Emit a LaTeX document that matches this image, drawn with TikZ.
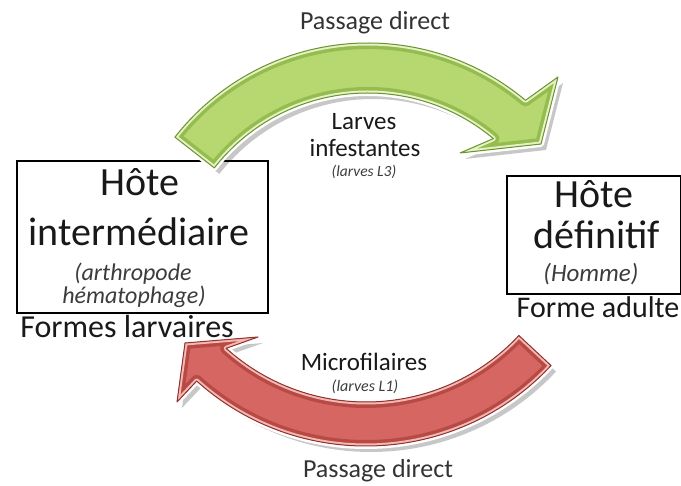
\documentclass[tikz,border=0pt]{standalone}
\usepackage{fontspec}
\setmainfont{Carlito}
\definecolor{gface}{RGB}{183,215,112}
\definecolor{gbevel}{RGB}{148,188,78}
\definecolor{glight}{RGB}{228,242,196}
\definecolor{gdark}{RGB}{108,148,48}
\definecolor{rface}{RGB}{214,102,98}
\definecolor{rbevel}{RGB}{184,74,70}
\definecolor{rlight}{RGB}{242,186,180}
\definecolor{rdark}{RGB}{148,48,46}
\definecolor{txtc}{RGB}{25,25,25}
\definecolor{itc}{RGB}{60,60,60}
\newcommand\fsz[1]{\fontsize{#1}{#1}\selectfont}
\newcommand\grnpath{({368+245*cos(142)},{288-245*sin(142)}) arc[start angle=-142,end angle=-50,radius=245] -- (558,77) -- (541,144) -- (460,153) -- ({368+195*cos(50)},{288-195*sin(50)}) arc[start angle=-50,end angle=-142,radius=195] -- cycle}
\newcommand\rdpath{({366+253*cos(43)},{193+253*sin(43)}) arc[start angle=43,end angle=132,radius=253] -- (177,402) -- (185,343) -- (258,337) -- ({366+209*cos(132)},{193+209*sin(132)}) arc[start angle=132,end angle=43,radius=209] -- cycle}
\begin{document}
\begin{tikzpicture}[x=1pt,y=-1pt,
  hostbox/.style={draw=black, line width=2pt, fill=none, inner sep=0pt, anchor=north west},
  txt/.style={inner sep=0pt, anchor=base, text=txtc},
  itx/.style={inner sep=0pt, anchor=base, text=itc, font=\itshape}]
\useasboundingbox (0,0) rectangle (681,486);
% boxes
\node[hostbox, minimum width=251pt, minimum height=152pt] (hi) at (16,160) {};
\node[hostbox, minimum width=174pt, minimum height=118pt] (hd) at (506,175) {};
% red arrow
\fill[black, opacity=.22, shift={(5,6)}] \rdpath;
\draw[white, line width=6pt, line join=round] \rdpath;
\fill[rface] \rdpath;
\begin{scope}
\clip \rdpath;
\draw[rbevel, line width=12pt, line join=round] \rdpath;
\draw[rlight, line width=5pt, line join=round] \rdpath;
\end{scope}
\draw[rdark, line width=1pt, line join=round] \rdpath;
% green arrow
\fill[black, opacity=.22, shift={(5,6)}] \grnpath;
\draw[white, line width=6pt, line join=round] \grnpath;
\fill[gface] \grnpath;
\begin{scope}
\clip \grnpath;
\draw[gbevel, line width=12pt, line join=round] \grnpath;
\draw[glight, line width=5pt, line join=round] \grnpath;
\end{scope}
\draw[gdark, line width=1pt, line join=round] \grnpath;
% texts
\node[txt, font=\fsz{26}, text=black!80] (ptop) at (375,30) {Passage direct};
\node[txt, font=\fsz{26}, text=black!80] (pbot) at (378,478) {Passage direct};
\node[txt, font=\fsz{40}] (hi1) at (140,196) {Hôte};
\node[txt, font=\fsz{40}] (hi2) at (139,246) {intermédiaire};
\node[itx, font=\fsz{24}\itshape] (hi3) at (133,281) {(arthropode};
\node[itx, font=\fsz{24}\itshape] (hi4) at (134,304) {hématophage)};
\node[txt, font=\fsz{32}] (hil) at (127,338) {Formes larvaires};
\node[txt, font=\fsz{40}] (hd1) at (594,208) {Hôte};
\node[txt, font=\fsz{40}] (hd2) at (597,249) {définitif};
\node[itx, font=\fsz{25}\itshape] (hd3) at (591,282) {(Homme)};
\node[txt, font=\fsz{30}] (hdl) at (598,318) {Forme adulte};
\node[txt, font=\fsz{25}] (m1) at (364,130) {Larves};
\node[txt, font=\fsz{25}] (m2) at (365,157) {infestantes};
\node[itx, font=\fsz{15.5}\itshape] (m3) at (364,177) {(larves L3)};
\node[txt, font=\fsz{25}] (m4) at (364,371) {Microfilaires};
\node[itx, font=\fsz{16}\itshape] (m5) at (365,392) {(larves L1)};
\end{tikzpicture}
\end{document}
